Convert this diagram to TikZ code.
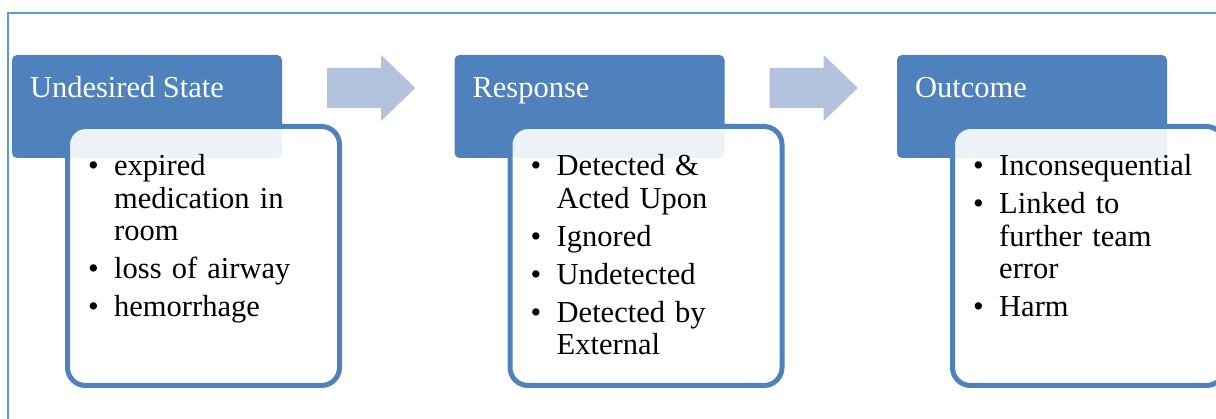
\documentclass[tikz,border=0pt]{standalone}
\usepackage{fontspec}
\setmainfont{Liberation Serif}
\definecolor{hdrblue}{RGB}{79,129,189}
\definecolor{flowblue}{RGB}{179,195,222}
\definecolor{frameblue}{RGB}{91,155,213}
\tikzset{
  hdr/.style={fill=hdrblue, rounded corners=5pt, minimum width=270pt,
    minimum height=103pt, inner sep=0pt},
  body/.style={draw=hdrblue, line width=5pt, fill=white, fill opacity=0.9,
    rounded corners=18pt, minimum width=272pt, minimum height=259pt, inner sep=0pt},
  ttl/.style={anchor=base west, inner sep=0pt, text=white,
    font=\fontsize{30.5}{32.5}\selectfont},
  lst/.style={anchor=north west, inner sep=0pt, text width=245pt,
    font=\fontsize{30.5}{32.5}\selectfont},
  flow/.style={fill=flowblue},
}
\newcommand{\bul}[1]{\par\hangindent=26pt\hangafter=1\noindent\makebox[26pt][l]{\textbullet}#1}
\begin{document}
\begin{tikzpicture}[x=1pt,y=1pt]
  \clip (0,0) rectangle (1216,419);
  % Frame
  \draw [frameblue, line width=1.5pt] (8,406) rectangle (1240,-20);
%%
  % Node: Undesired State
  \node [hdr] (hdrA) at (147,312.5) {};
  \node [body] (bodyA) at (203.5,163) {};
  \node [ttl] (ttlA) at ([xshift=18pt,yshift=-43pt]hdrA.north west) {Undesired State};
  \node [lst] (lstA) at ([xshift=23pt,yshift=-13.5pt]bodyA.north west)
    {\setlength{\parskip}{5.5pt}\bul{expired\newline medication in\newline room}\bul{loss of airway}\bul{hemorrhage}\par};
  % Node: Response
  \node [hdr] (hdrB) at (589.5,312.5) {};
  \node [body] (bodyB) at (646,163) {};
  \node [ttl] (ttlB) at ([xshift=18pt,yshift=-43pt]hdrB.north west) {Response};
  \node [lst] (lstB) at ([xshift=23pt,yshift=-13.5pt]bodyB.north west)
    {\setlength{\parskip}{5.5pt}\bul{Detected \&\newline Acted Upon}\bul{Ignored}\bul{Undetected}\bul{Detected by\newline External}\par};
  % Node: Outcome
  \node [hdr] (hdrC) at (1032,312.5) {};
  \node [body] (bodyC) at (1088.5,163) {};
  \node [ttl] (ttlC) at ([xshift=18pt,yshift=-43pt]hdrC.north west) {Outcome};
  \node [lst] (lstC) at ([xshift=23pt,yshift=-13.5pt]bodyC.north west)
    {\setlength{\parskip}{5.5pt}\bul{Inconsequential}\bul{Linked to\newline further team\newline error}\bul{Harm}\par};
%%
  % Edge: Undesired State -> Response
  \fill [flow] ([xshift=45pt,yshift=18.5pt]hdrA.east) ++(0,20) -- ++(54,0) -- ++(0,13) -- ++(34,-33)
    -- ++(-34,-33) -- ++(0,13) -- ++(-54,0) -- cycle;
  % Edge: Response -> Outcome
  \fill [flow] ([xshift=45pt,yshift=18.5pt]hdrB.east) ++(0,20) -- ++(54,0) -- ++(0,13) -- ++(34,-33)
    -- ++(-34,-33) -- ++(0,13) -- ++(-54,0) -- cycle;
\end{tikzpicture}
\end{document}
